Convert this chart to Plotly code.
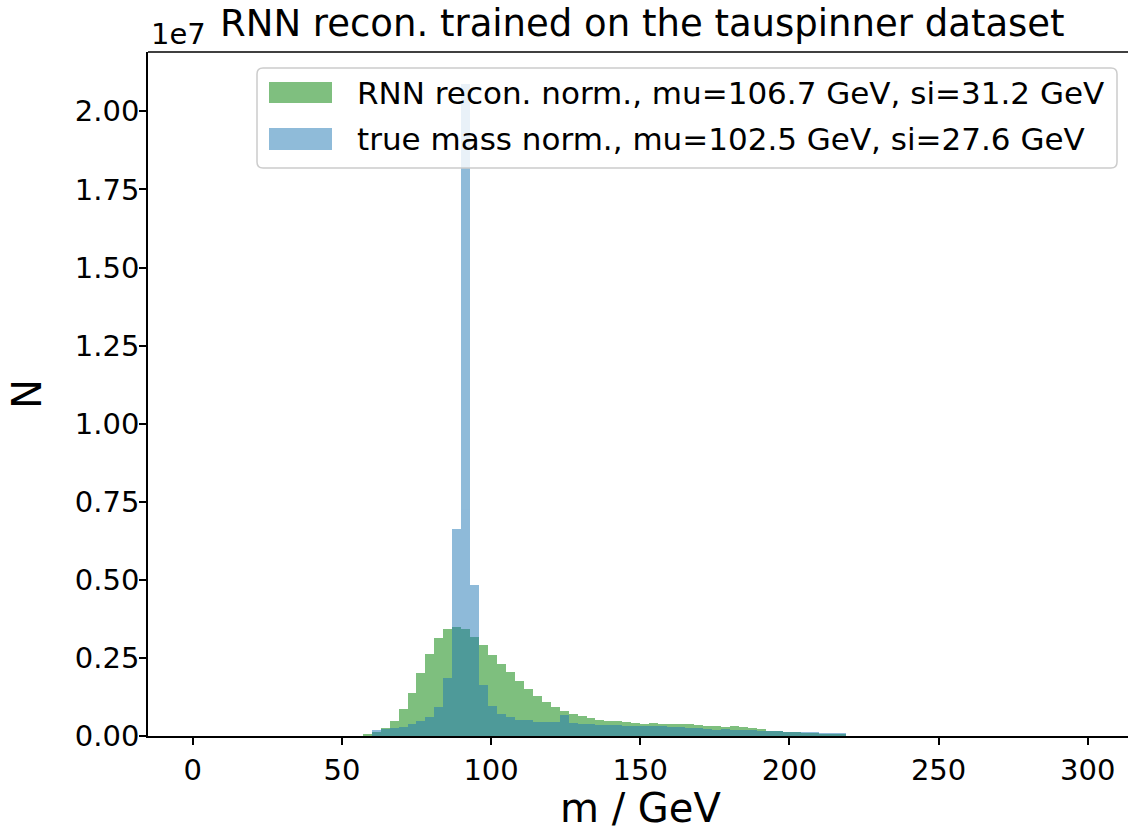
import plotly.graph_objects as go

# bin edges: 3 GeV wide bins, first listed bin starts at 57 GeV
bin_width = 3
bin_start = 57

# counts in units of 1e6
rnn_counts = [0.05, 0.12, 0.26, 0.48, 0.87, 1.38, 2.02, 2.63, 3.14, 3.43,
              3.49, 3.43, 3.17, 2.92, 2.60, 2.31, 2.05, 1.76, 1.51, 1.28,
              1.09, 0.93, 0.80, 0.70, 0.64, 0.58, 0.51, 0.48, 0.48, 0.45,
              0.42, 0.38, 0.42, 0.38, 0.38, 0.38, 0.38, 0.35, 0.32, 0.32,
              0.29, 0.32, 0.29, 0.26, 0.22, 0.16, 0.16, 0.13, 0.13, 0.10,
              0.10, 0.07, 0.05, 0.05]
true_counts = [0.0, 0.19, 0.22, 0.26, 0.29, 0.38, 0.48, 0.61, 0.93, 1.86,
               6.63, 20.87, 4.84, 1.63, 0.96, 0.71, 0.61, 0.51, 0.51, 0.45,
               0.45, 0.45, 0.67, 0.42, 0.38, 0.38, 0.35, 0.35, 0.35, 0.32,
               0.32, 0.32, 0.32, 0.32, 0.29, 0.29, 0.26, 0.26, 0.22, 0.19,
               0.22, 0.19, 0.19, 0.19, 0.16, 0.16, 0.16, 0.13, 0.13, 0.13,
               0.13, 0.10, 0.10, 0.10]

rnn_label = "RNN recon. norm., mu=106.7 GeV, si=31.2 GeV"
true_label = "true mass norm., mu=102.5 GeV, si=27.6 GeV"
title_text = "RNN recon. trained on the tauspinner dataset"

y_tick_vals = [0.0, 0.25, 0.5, 0.75, 1.0, 1.25, 1.5, 1.75, 2.0]
y_tick_text = ["0.00", "0.25", "0.50", "0.75", "1.00", "1.25", "1.50", "1.75", "2.00"]
x_tick_vals = [0, 50, 100, 150, 200, 250, 300]

FONT = "DejaVu Sans"

rnn_x = [bin_start + bin_width * (i + 0.5) for i in range(len(rnn_counts))]
true_x = [bin_start + bin_width * (i + 0.5) for i in range(len(true_counts))]

fig = go.Figure()
fig.add_trace(go.Bar(x=rnn_x, y=[v * 1e6 for v in rnn_counts], width=bin_width,
                     marker=dict(color="rgb(0,128,0)", line=dict(width=0)),
                     opacity=0.5, name=rnn_label, showlegend=False))
fig.add_trace(go.Bar(x=true_x, y=[v * 1e6 for v in true_counts], width=bin_width,
                     marker=dict(color="#1f77b4", line=dict(width=0)),
                     opacity=0.5, name=true_label, showlegend=False))

W, H = 1129, 833
L, R, T, B = 148, 1, 52, 97
pw = W - L - R
ph = H - T - B

def px(x):
    return (x - L) / pw

def py(y):
    return (H - B - y) / ph

shapes = []
# top spine
shapes.append(dict(type="line", xref="paper", yref="paper", x0=0, x1=1, y0=1, y1=1,
                   line=dict(color="black", width=1.5), layer="above"))
# legend box with rounded corners
x0, x1, y0, y1 = px(257), px(1117), py(168), py(68)
rx, ry = 6 / pw, 6 / ph
path = (f"M {x0+rx},{y0} L {x1-rx},{y0} Q {x1},{y0} {x1},{y0+ry} "
        f"L {x1},{y1-ry} Q {x1},{y1} {x1-rx},{y1} L {x0+rx},{y1} "
        f"Q {x0},{y1} {x0},{y1-ry} L {x0},{y0+ry} Q {x0},{y0} {x0+rx},{y0} Z")
shapes.append(dict(type="path", xref="paper", yref="paper", path=path,
                   fillcolor="rgba(255,255,255,0.8)", line=dict(color="rgb(204,204,204)", width=1.5),
                   layer="above"))
# legend patches
shapes.append(dict(type="rect", xref="paper", yref="paper", x0=px(269), x1=px(332), y0=py(103), y1=py(82),
                   fillcolor="rgba(0,128,0,0.5)", line=dict(width=0), layer="above"))
shapes.append(dict(type="rect", xref="paper", yref="paper", x0=px(269), x1=px(332), y0=py(150), y1=py(128),
                   fillcolor="rgba(31,119,180,0.5)", line=dict(width=0), layer="above"))

annotations = [
    dict(text=rnn_label, xref="paper", yref="paper", x=px(355), y=py(93), xanchor="left", yanchor="middle",
         showarrow=False, font=dict(family=FONT, size=31, color="black")),
    dict(text=true_label, xref="paper", yref="paper", x=px(355), y=py(139), xanchor="left", yanchor="middle",
         showarrow=False, font=dict(family=FONT, size=31, color="black")),
    dict(text=title_text, xref="paper", yref="paper", x=px(642), y=py(24), xanchor="center", yanchor="middle",
         showarrow=False, font=dict(family=FONT, size=37, color="black")),
    dict(text="1e7", xref="paper", yref="paper", x=px(149), y=py(34), xanchor="left", yanchor="middle",
         showarrow=False, font=dict(family=FONT, size=29, color="black")),
    dict(text="N", xref="paper", yref="paper", x=px(27), y=0.5, xanchor="center", yanchor="middle",
         textangle=-90, showarrow=False, font=dict(family=FONT, size=40, color="black")),
    dict(text="m / GeV", xref="paper", yref="paper", x=px(640), y=py(808), xanchor="center", yanchor="middle",
         showarrow=False, font=dict(family=FONT, size=40, color="black")),
]

fig.update_layout(
    width=W, height=H,
    margin=dict(l=L, r=R, t=T, b=B, pad=0),
    paper_bgcolor="white", plot_bgcolor="white",
    barmode="overlay", bargap=0,
    font=dict(family=FONT, size=29, color="black"),
    shapes=shapes, annotations=annotations,
    showlegend=False,
)
fig.update_xaxes(range=[-15, 313.5], tickvals=x_tick_vals, ticks="outside", ticklen=7, tickwidth=1.5,
                 tickcolor="black", showline=True, linecolor="black", linewidth=1.5, showgrid=False,
                 zeroline=False, tickfont=dict(family=FONT, size=29, color="black"))
fig.update_yaxes(range=[0, 21.9e6], tickvals=[v * 1e7 for v in y_tick_vals], ticktext=y_tick_text,
                 ticks="outside", ticklen=7, tickwidth=1.5, tickcolor="black", showline=True,
                 linecolor="black", linewidth=1.5, showgrid=False, zeroline=False,
                 ticklabelstandoff=-6,
                 tickfont=dict(family=FONT, size=29, color="black"))

fig.write_html("out.html")
